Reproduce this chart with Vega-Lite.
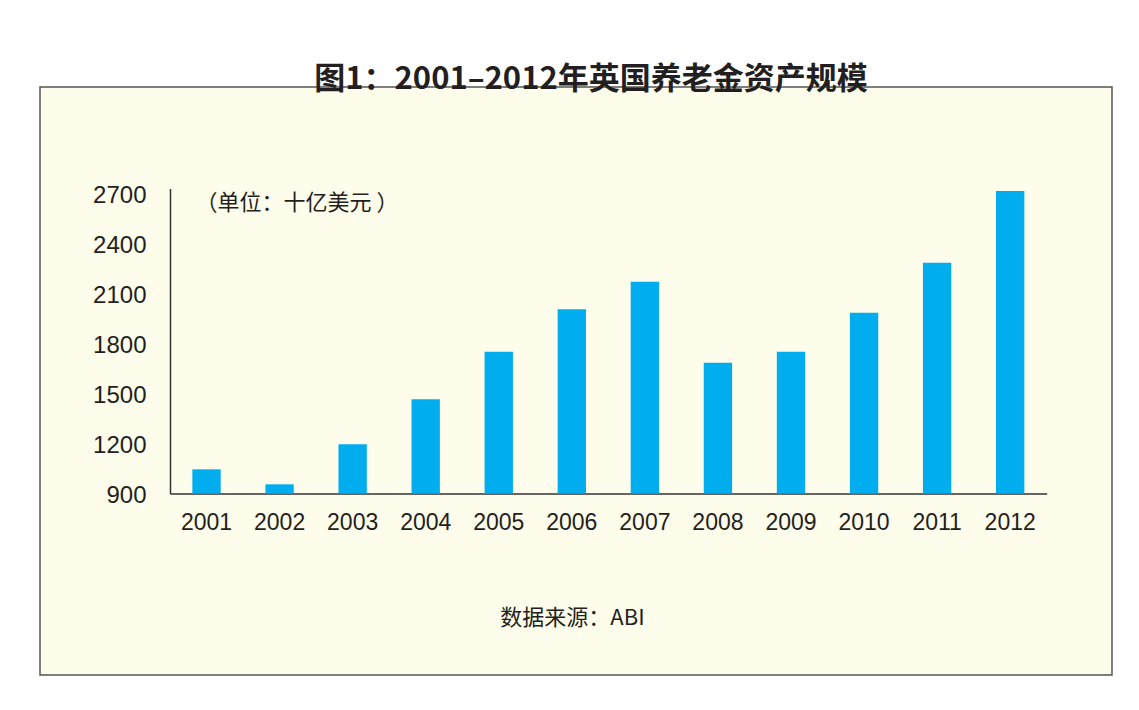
{
  "$schema": "https://vega.github.io/schema/vega-lite/v6.json",
  "autosize": "none",
  "width": 1072,
  "height": 588,
  "padding": {"left": 40, "top": 87, "right": 27, "bottom": 35},
  "background": "white",
  "title": {
    "text": "图1：2001–2012年英国养老金资产规模",
    "font": "Noto Sans CJK SC",
    "fontSize": 31,
    "fontWeight": "bold",
    "color": "#231f20",
    "anchor": "middle",
    "frame": "group",
    "dx": 15,
    "dy": 33,
    "baseline": "middle",
    "offset": 9
  },
  "config": {
    "view": {"fill": "#fefcea", "stroke": "#555555", "strokeWidth": 1.5}
  },
  "data": {
    "values": [
      {"year": "2001", "value": 1045},
      {"year": "2002", "value": 955},
      {"year": "2003", "value": 1195},
      {"year": "2004", "value": 1465},
      {"year": "2005", "value": 1750},
      {"year": "2006", "value": 2005},
      {"year": "2007", "value": 2170},
      {"year": "2008", "value": 1685},
      {"year": "2009", "value": 1750},
      {"year": "2010", "value": 1985},
      {"year": "2011", "value": 2285},
      {"year": "2012", "value": 2715}
    ]
  },
  "mark": {"type": "bar", "color": "#00adef"},
  "encoding": {
    "x": {
      "field": "year",
      "type": "ordinal",
      "scale": {"range": [130, 1006.7], "paddingInner": 0.612, "paddingOuter": 0.306},
      "axis": {
        "title": "数据来源：ABI",
        "titleFont": "Noto Sans CJK SC",
        "titleFontSize": 22,
        "titleFontWeight": "normal",
        "titleColor": "#231f20",
        "titleX": 532,
        "titleY": 123.5,
        "titleBaseline": "middle",
        "titleAlign": "center",
        "offset": -181.5,
        "labelAngle": 0,
        "labelFont": "Liberation Sans",
        "labelFontSize": 23,
        "labelColor": "#231f20",
        "labelBaseline": "alphabetic",
        "labelPadding": 35.5,
        "ticks": false,
        "tickSize": 0,
        "domainColor": "#333333",
        "domainWidth": 1.5
      }
    },
    "y": {
      "field": "value",
      "type": "quantitative",
      "scale": {"domain": [900, 2730], "range": [406.5, 101.5], "zero": false, "nice": false, "clamp": true},
      "axis": {
        "title": "（单位：十亿美元 ）",
        "titleAngle": 0,
        "titleX": 25,
        "titleY": 115,
        "titleAlign": "left",
        "titleBaseline": "middle",
        "titleFont": "Noto Sans CJK SC",
        "titleFontSize": 22,
        "titleFontWeight": "normal",
        "titleColor": "#231f20",
        "values": [900, 1200, 1500, 1800, 2100, 2400, 2700],
        "format": "d",
        "offset": -130,
        "grid": false,
        "ticks": false,
        "tickSize": 0,
        "labelPadding": 24,
        "labelFontSize": 24,
        "labelFont": "Liberation Sans",
        "labelColor": "#231f20",
        "labelBaseline": "middle",
        "labelOffset": 1.5,
        "labelFlush": false,
        "labelOverlap": false,
        "domainColor": "#333333",
        "domainWidth": 1.5
      }
    }
  }
}
